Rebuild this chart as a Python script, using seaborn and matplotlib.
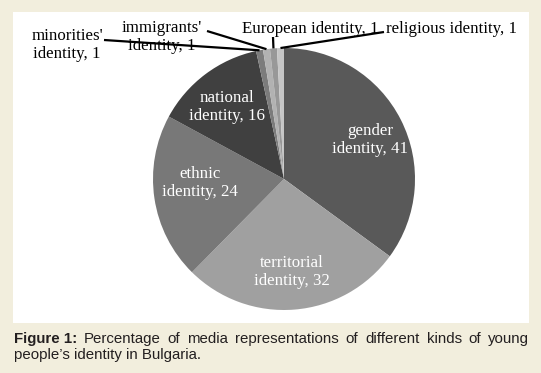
import matplotlib
matplotlib.use("Agg")
import numpy as np
import matplotlib.pyplot as plt
from matplotlib.patches import Rectangle
import seaborn as sns

# ---- data ----
categories = ["gender identity", "territorial identity", "ethnic identity", "national identity",
              "minorities' identity", "immigrants' identity", "European identity", "religious identity"]
values = [41, 32, 24, 16, 1, 1, 1, 1]
label_texts = ["gender\nidentity, 41", "territorial\nidentity, 32", "ethnic\nidentity, 24",
               "national\nidentity, 16", "minorities'\nidentity, 1", "immigrants'\nidentity, 1",
               "European identity, 1", "religious identity, 1"]
colors = ["#595959", "#a0a0a0", "#787878", "#404040", "#7c7c7c", "#b2b2b2", "#989898", "#c6c6c6"]
caption_bold = "Figure 1:"
caption_line1 = "Percentage of media representations of different kinds of young"
caption_line2 = "people\u2019s identity in Bulgaria."

sns.set_theme(style="white")
plt.rcParams['font.family'] = ['Liberation Serif', 'DejaVu Sans']

W, H = 541, 373
fig = plt.figure(figsize=(W / 100, H / 100), dpi=100)
fig.patch.set_facecolor("#f2eedd")
ax = fig.add_axes([0, 0, 1, 1])

cx, cy, r = 284, H - 179, 131
wedges, _ = ax.pie(values, colors=colors, startangle=90, counterclock=False,
                   center=(cx, cy), radius=r, wedgeprops=dict(linewidth=0))
ax.set_xlim(0, W)
ax.set_ylim(0, H)
ax.set_aspect("auto")
ax.axis("off")
ax.add_patch(Rectangle((13, H - 323), 516, 311, facecolor="white", edgecolor="none", zorder=0))

# label positions (pixel coords, y from top): centre of text
label_pos = [(370, 140), (292, 272), (200, 183), (227, 107),
             (67, 45), (162, 37), (310, 29), (452, 29)]
label_colors = ["white", "white", "white", "white", "black", "black", "black", "black"]
# where the leader line leaves the label (pixel coords, y from top)
leader_start = [None, None, None, None, (104, 40), (207, 31), (273, 37), (384, 32)]

for i, (txt, (px, py)) in enumerate(zip(label_texts, label_pos)):
    ax.text(px, H - py, txt, ha="center", va="center", fontsize=12.2, color=label_colors[i],
            linespacing=1.1, zorder=5)
    if leader_start[i] is not None:
        w = wedges[i]
        mid = np.deg2rad((w.theta1 + w.theta2) / 2)
        ex, ey = cx + r * np.cos(mid), cy + r * np.sin(mid)
        sx, sy = leader_start[i]
        ax.plot([sx, ex], [H - sy, ey], color="black", lw=1.6, zorder=4, solid_capstyle="butt")

# ---- caption (justified first line) ----
cap_font = dict(family=["Liberation Sans", "DejaVu Sans"], fontsize=10.8, color="#231f20")
left, right = 14, 529
y1, y2 = H - 339, H - 355
tokens = [(caption_bold, "bold")] + [(wd, "normal") for wd in caption_line1.split()]
objs = [ax.text(0, y1, t, ha="left", va="center", fontweight=fw, **cap_font) for t, fw in tokens]
fig.canvas.draw()
renderer = fig.canvas.get_renderer()
widths = [o.get_window_extent(renderer).width for o in objs]
gap = (right - left - sum(widths)) / (len(objs) - 1)
x = left
for o, wd in zip(objs, widths):
    o.set_x(x)
    x += wd + gap
ax.text(left, y2, caption_line2, ha="left", va="center", **cap_font)

fig.savefig("out.png", dpi=100, facecolor=fig.get_facecolor())
